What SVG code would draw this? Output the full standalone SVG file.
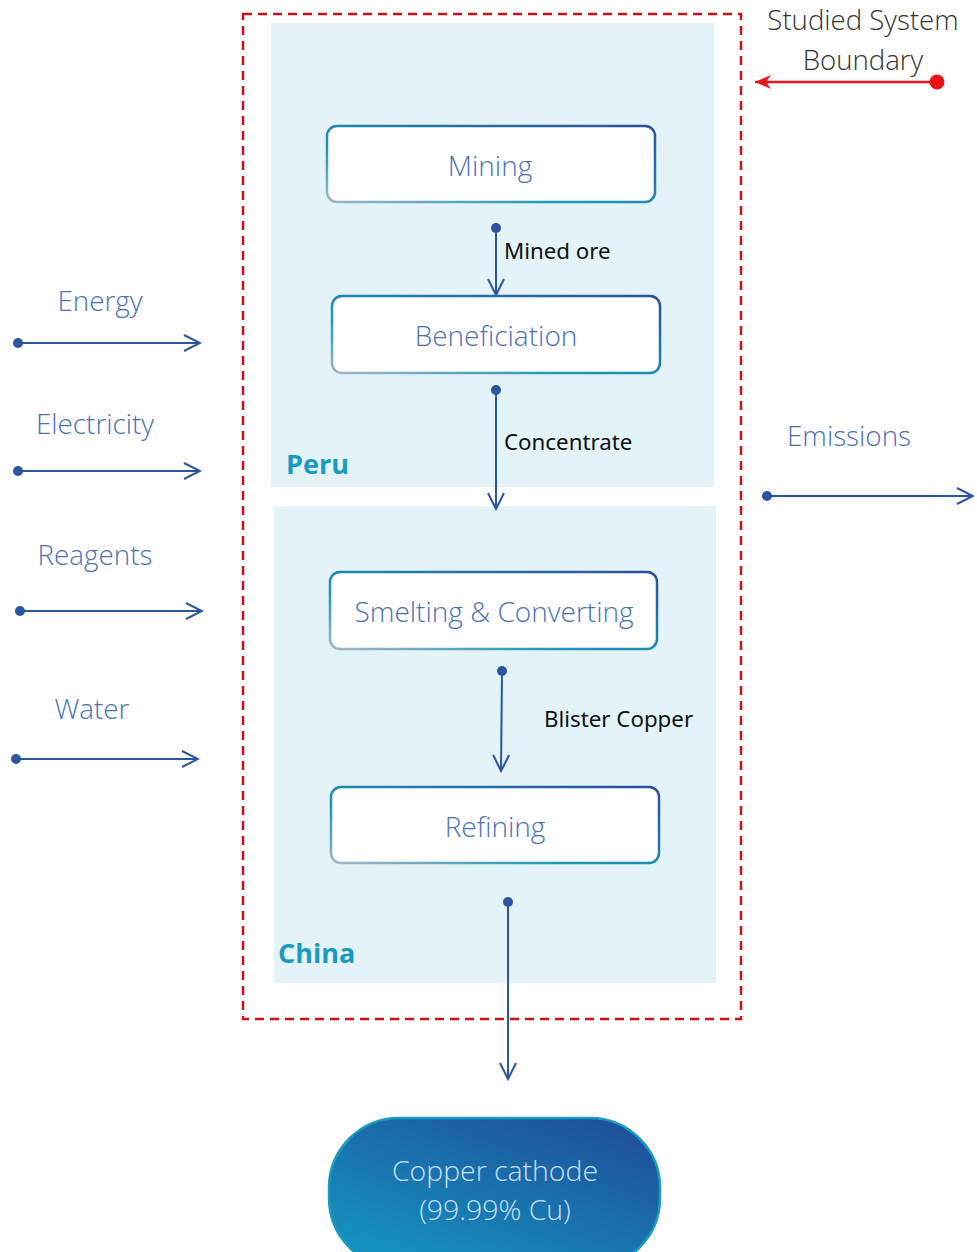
<svg xmlns="http://www.w3.org/2000/svg" width="977" height="1252" viewBox="0 0 977 1252">
  <defs>
    <linearGradient id="boxStroke" x1="0" y1="1" x2="1" y2="0">
      <stop offset="0" stop-color="#a3b6c4"/>
      <stop offset="0.35" stop-color="#1a9ab8"/>
      <stop offset="1" stop-color="#2a4f9a"/>
    </linearGradient>
    <linearGradient id="pillFill" x1="0.1" y1="1" x2="0.9" y2="0">
      <stop offset="0" stop-color="#1497c2"/>
      <stop offset="1" stop-color="#1f4d9a"/>
    </linearGradient>
    <marker id="openArrow" viewBox="0 0 20 20" refX="18" refY="10" markerWidth="20" markerHeight="20" markerUnits="userSpaceOnUse" orient="auto">
      <path d="M2,2 L18,10 L2,18" fill="none" stroke="#2a55a0" stroke-width="2"/>
    </marker>
    <marker id="redArrow" viewBox="0 0 20 20" refX="18" refY="10" markerWidth="20" markerHeight="20" markerUnits="userSpaceOnUse" orient="auto">
      <path d="M18,10 L2,3 L7,10 L2,17 Z" fill="#e8141a"/>
    </marker>
  </defs>
  <style>
    .region { fill: #e4f3f8; }
    .box { fill: #ffffff; stroke: url(#boxStroke); stroke-width: 2.5; }
    .boxText { font-family: "Open Sans", "Noto Sans", sans-serif; font-weight: 300; font-size: 28px; fill: #4a72b4; text-anchor: middle; }
    .flow { stroke: #2a55a0; stroke-width: 2; fill: none; marker-end: url(#openArrow); }
    .dot { fill: #2a55a0; }
    .flowLabel { font-family: "Noto Sans", "Open Sans", sans-serif; font-size: 22.3px; fill: #111111; }
    .sideLabel { font-family: "Open Sans", "Noto Sans", sans-serif; font-weight: 300; font-size: 27.8px; fill: #4a72b4; text-anchor: middle; }
    .regionLabel { font-family: "Open Sans", "Noto Sans", sans-serif; font-weight: 700; font-size: 27px; fill: #1a9ac0; }
    .boundaryText { font-family: "Open Sans", "Noto Sans", sans-serif; font-weight: 300; font-size: 27.6px; fill: #333333; text-anchor: middle; }
    .pillText { font-family: "Open Sans", "Noto Sans", sans-serif; font-weight: 300; font-size: 28.4px; fill: #c9e0f0; text-anchor: middle; }
  </style>

  <!-- system boundary -->
  <rect id="boundary" x="243" y="14" width="498" height="1005" fill="none" stroke="#c8101a" stroke-width="2.5" stroke-dasharray="9 6"/>

  <!-- country regions -->
  <g id="region-peru">
    <rect class="region" x="271" y="23" width="443" height="464"/>
    <text class="regionLabel" x="286" y="474">Peru</text>
  </g>
  <g id="region-china">
    <rect class="region" x="274" y="506" width="442" height="477"/>
    <text class="regionLabel" x="278" y="963">China</text>
  </g>

  <!-- process steps -->
  <g id="node-mining">
    <rect class="box" x="327" y="126" width="328" height="76" rx="10"/>
    <text class="boxText" x="490" y="176">Mining</text>
  </g>
  <g id="node-beneficiation">
    <rect class="box" x="332" y="296" width="328" height="77" rx="10"/>
    <text class="boxText" x="496" y="346">Beneficiation</text>
  </g>
  <g id="node-smelting">
    <rect class="box" x="330" y="572" width="327" height="77" rx="10"/>
    <text class="boxText" x="494" y="622">Smelting &amp; Converting</text>
  </g>
  <g id="node-refining">
    <rect class="box" x="331" y="787" width="328" height="76" rx="10"/>
    <text class="boxText" x="495" y="837">Refining</text>
  </g>
  <g id="node-cathode">
    <rect x="329" y="1118" width="331" height="150" rx="70" fill="url(#pillFill)" stroke="#1a9ac0" stroke-width="2.5"/>
    <text class="pillText" x="495" y="1181">Copper cathode</text>
    <text class="pillText" x="495" y="1220">(99.99% Cu)</text>
  </g>

  <!-- side labels -->
  <g id="label-energy"><text class="sideLabel" x="100" y="311">Energy</text></g>
  <g id="label-electricity"><text class="sideLabel" x="95" y="434">Electricity</text></g>
  <g id="label-reagents"><text class="sideLabel" x="95" y="565">Reagents</text></g>
  <g id="label-water"><text class="sideLabel" x="92" y="719">Water</text></g>
  <g id="label-emissions"><text class="sideLabel" x="849" y="446">Emissions</text></g>
  <g id="label-boundary">
    <text class="boundaryText" x="863" y="30">Studied System</text>
    <text class="boundaryText" x="863" y="70">Boundary</text>
  </g>

  <!-- connectors -->
  <g id="connectors">
    <line class="flow" x1="496" y1="228" x2="496" y2="295"/>
    <circle class="dot" cx="496" cy="228" r="5"/>
    <text class="flowLabel" x="504" y="259">Mined ore</text>

    <line class="flow" x1="496" y1="390" x2="496" y2="509"/>
    <circle class="dot" cx="496" cy="390" r="5"/>
    <text class="flowLabel" x="504" y="450">Concentrate</text>

    <line class="flow" x1="502" y1="671" x2="501" y2="771"/>
    <circle class="dot" cx="502" cy="671" r="5"/>
    <text class="flowLabel" x="544" y="727">Blister Copper</text>

    <line class="flow" x1="508" y1="902" x2="508" y2="1079"/>
    <circle class="dot" cx="508" cy="902" r="5"/>

    <line class="flow" x1="18" y1="343" x2="200" y2="343"/>
    <circle class="dot" cx="18" cy="343" r="5"/>
    <line class="flow" x1="18" y1="471" x2="200" y2="471"/>
    <circle class="dot" cx="18" cy="471" r="5"/>
    <line class="flow" x1="20" y1="611" x2="202" y2="611"/>
    <circle class="dot" cx="20" cy="611" r="5"/>
    <line class="flow" x1="16" y1="759" x2="198" y2="759"/>
    <circle class="dot" cx="16" cy="759" r="5"/>
    <line class="flow" x1="767" y1="496" x2="973" y2="496"/>
    <circle class="dot" cx="767" cy="496" r="5"/>

    <line x1="937" y1="82" x2="755" y2="82" stroke="#e8141a" stroke-width="2.5" marker-end="url(#redArrow)"/>
    <circle cx="937" cy="82" r="7.5" fill="#e8141a"/>
  </g>
</svg>
